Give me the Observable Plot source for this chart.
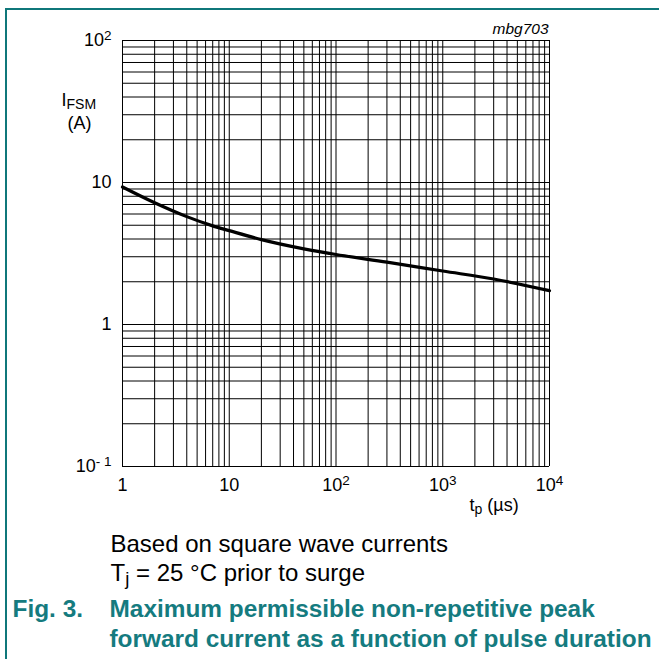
<!DOCTYPE html>
<html>
<head>
<meta charset="utf-8">
<script src="https://cdn.jsdelivr.net/npm/d3@7"></script>
<script src="https://cdn.jsdelivr.net/npm/@observablehq/plot@0.6"></script>
<style>
  html, body { margin: 0; padding: 0; background: #fff; }
  #wrap { position: relative; width: 659px; height: 659px; overflow: hidden; background: #fff; }
  .bline { position: absolute; background: #0f777a; }
</style>
</head>
<body>
<div id="wrap">
  <div class="bline" style="left:5px; top:8px; width:654px; height:2px;"></div>
  <div class="bline" style="left:5px; top:8px; width:2px; height:651px;"></div>
</div>
<script>
// ---- data ----
const tp = [1, 2, 4, 7, 10, 20, 50, 100, 300, 1000, 3000, 10000];          // µs
const ifsm = [9.3, 7.2, 5.75, 4.95, 4.58, 3.96, 3.41, 3.11, 2.75, 2.38, 2.09, 1.73]; // A

const xTicks = [1, 10, 100, 1000, 10000];
const xTickLabels = ["1", "10", "10^{2}", "10^{3}", "10^{4}"];
const yTicks = [0.1, 1, 10, 100];
const yTickLabels = ["10^{- 1}", "1", "10", "10^{2}"];

const gridSteps = [1, 2, 3, 4, 5, 6, 7, 8, 9];
const xDecades = [1, 10, 100, 1000];
const yDecades = [0.1, 1, 10];

const figId = ["mbg703"];
const yLabel = ["I_{FSM}", "(A)"];
const xLabel = ["t_{p} (µs)"];
const notes = ["Based on square wave currents", "T_{j} = 25 °C prior to surge"];
const figNum = ["Fig. 3."];
const figTitle = ["Maximum permissible non-repetitive peak", "forward current as a function of pulse duration"];

// ---- derived ----
const curve = tp.map((t, i) => ({t, v: ifsm[i]}));
const xGrid = xDecades.flatMap(d => gridSteps.map(s => d * s)).concat([10000]);
const yGrid = yDecades.flatMap(d => gridSteps.map(s => d * s)).concat([100]);
const xFmt = new Map(xTicks.map((t, i) => [t, xTickLabels[i]]));
const yFmt = new Map(yTicks.map((t, i) => [t, yTickLabels[i]]));
const teal = "#157b7f";

const chart = Plot.plot({
  width: 659,
  height: 659,
  marginLeft: 122,
  marginRight: 110,
  marginTop: 40,
  marginBottom: 193,
  style: {fontFamily: "'Liberation Sans', Arial, sans-serif", fontSize: "18px", color: "#000", background: "transparent", overflow: "visible"},
  x: {type: "log", domain: [1, 10000]},
  y: {type: "log", domain: [0.1, 100]},
  marks: [
    Plot.ruleX(xGrid, {stroke: "#000", strokeWidth: 1}),
    Plot.ruleY(yGrid, {stroke: "#000", strokeWidth: 1}),
    Plot.line(curve, {x: "t", y: "v", stroke: "#000", strokeWidth: 3.2, curve: "monotone-x"}),
    Plot.axisX({ticks: xTicks, tickFormat: d => xFmt.get(d), tickSize: 0, tickPadding: 12, label: null, fontSize: 18}),
    Plot.axisY({ticks: yTicks, tickFormat: d => yFmt.get(d), tickSize: 0, tickPadding: 11, label: null, fontSize: 18}),
    Plot.text(figId, {frameAnchor: "top-right", dx: -1, dy: -7, textAnchor: "end", lineAnchor: "bottom", fontStyle: "italic", fontSize: 15.5}),
    Plot.text([yLabel[0]], {frameAnchor: "top-left", dx: -61, dy: 65, textAnchor: "start", lineAnchor: "bottom", fontSize: 18}),
    Plot.text([yLabel[1]], {frameAnchor: "top-left", dx: -43, dy: 88, textAnchor: "middle", lineAnchor: "bottom", fontSize: 18}),
    Plot.text(xLabel, {frameAnchor: "bottom-right", dx: -80, dy: 44, textAnchor: "start", lineAnchor: "bottom", fontSize: 18}),
    Plot.text([notes[0]], {frameAnchor: "bottom-left", dx: -12, dy: 85, textAnchor: "start", lineAnchor: "bottom", fontSize: 24}),
    Plot.text([notes[1]], {frameAnchor: "bottom-left", dx: -12, dy: 114, textAnchor: "start", lineAnchor: "bottom", fontSize: 24}),
    Plot.text(figNum, {frameAnchor: "bottom-left", dx: -110, dy: 150, textAnchor: "start", lineAnchor: "bottom", fontSize: 24.4, fontWeight: "bold", fill: teal}),
    Plot.text([figTitle[0]], {frameAnchor: "bottom-left", dx: -13, dy: 150, textAnchor: "start", lineAnchor: "bottom", fontSize: 24.4, fontWeight: "bold", fill: teal}),
    Plot.text([figTitle[1]], {frameAnchor: "bottom-left", dx: -13, dy: 180, textAnchor: "start", lineAnchor: "bottom", fontSize: 24.4, fontWeight: "bold", fill: teal})
  ]
});
chart.style.position = "absolute";
chart.style.left = "0px";
chart.style.top = "0px";
document.getElementById("wrap").appendChild(chart);

// rich text: ^{...} superscript, _{...} subscript
const NS = "http://www.w3.org/2000/svg";
chart.querySelectorAll("text").forEach(el => {
  const s = el.textContent;
  if (!/[\^_]\{/.test(s)) return;
  const fs = parseFloat(getComputedStyle(el).fontSize) || 18;
  el.textContent = "";
  const re = /([\^_])\{([^}]*)\}/g;
  let last = 0, m, pending = 0;
  const add = (txt, size, dy) => {
    const t = document.createElementNS(NS, "tspan");
    t.textContent = txt;
    if (size) t.setAttribute("font-size", size);
    if (dy) t.setAttribute("dy", dy);
    el.appendChild(t);
  };
  while ((m = re.exec(s))) {
    if (m.index > last) { add(s.slice(last, m.index), null, pending); pending = 0; }
    const sup = m[1] === "^";
    const dy = sup ? -fs * 0.34 : fs * 0.2;
    add(m[2], fs * (sup ? 0.75 : 0.78), dy + pending);
    pending = -dy;
    last = re.lastIndex;
  }
  if (last < s.length) add(s.slice(last), null, pending);
});
</script>
</body>
</html>
